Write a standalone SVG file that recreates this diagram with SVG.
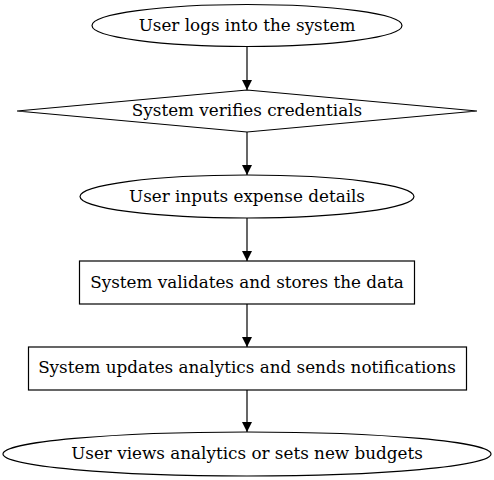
<svg xmlns="http://www.w3.org/2000/svg" width="494" height="480" viewBox="0 0 494 480">
<defs>
<style>
.n{fill:#fff;stroke:#000;stroke-width:1.2}
.t{font-family:"DejaVu Serif",serif;font-size:16.8px;text-anchor:middle;fill:#000}
.e{stroke:#000;stroke-width:1.2;fill:none}
</style>
<marker id="a" viewBox="0 0 10 12" refX="10" refY="6" markerWidth="10" markerHeight="12" markerUnits="userSpaceOnUse" orient="auto">
<path d="M0,1 L10,6 L0,11 Z" fill="#000"/>
</marker>
</defs>
<rect width="494" height="480" fill="#fff"/>
<g id="edges">
<line class="e" x1="247" y1="46.5" x2="247" y2="90" marker-end="url(#a)"/>
<line class="e" x1="247" y1="132" x2="247" y2="175" marker-end="url(#a)"/>
<line class="e" x1="247" y1="218" x2="247" y2="261" marker-end="url(#a)"/>
<line class="e" x1="247" y1="304" x2="247" y2="347" marker-end="url(#a)"/>
<line class="e" x1="247" y1="390" x2="247" y2="432" marker-end="url(#a)"/>
</g>
<g id="n1">
<ellipse class="n" cx="247" cy="25.5" rx="155" ry="21"/>
<text class="t" x="247" y="31">User logs into the system</text>
</g>
<g id="n2">
<polygon class="n" points="247,90 477,111 247,132 17,111"/>
<text class="t" x="247" y="116">System verifies credentials</text>
</g>
<g id="n3">
<ellipse class="n" cx="247" cy="196.5" rx="167" ry="21.5"/>
<text class="t" x="247" y="202">User inputs expense details</text>
</g>
<g id="n4">
<rect class="n" x="79.5" y="261" width="335" height="43"/>
<text class="t" x="247" y="287.5">System validates and stores the data</text>
</g>
<g id="n5">
<rect class="n" x="28.5" y="347" width="438" height="43"/>
<text class="t" x="247" y="373">System updates analytics and sends notifications</text>
</g>
<g id="n6">
<ellipse class="n" cx="247" cy="454" rx="244" ry="22"/>
<text class="t" x="247" y="459">User views analytics or sets new budgets</text>
</g>
</svg>
